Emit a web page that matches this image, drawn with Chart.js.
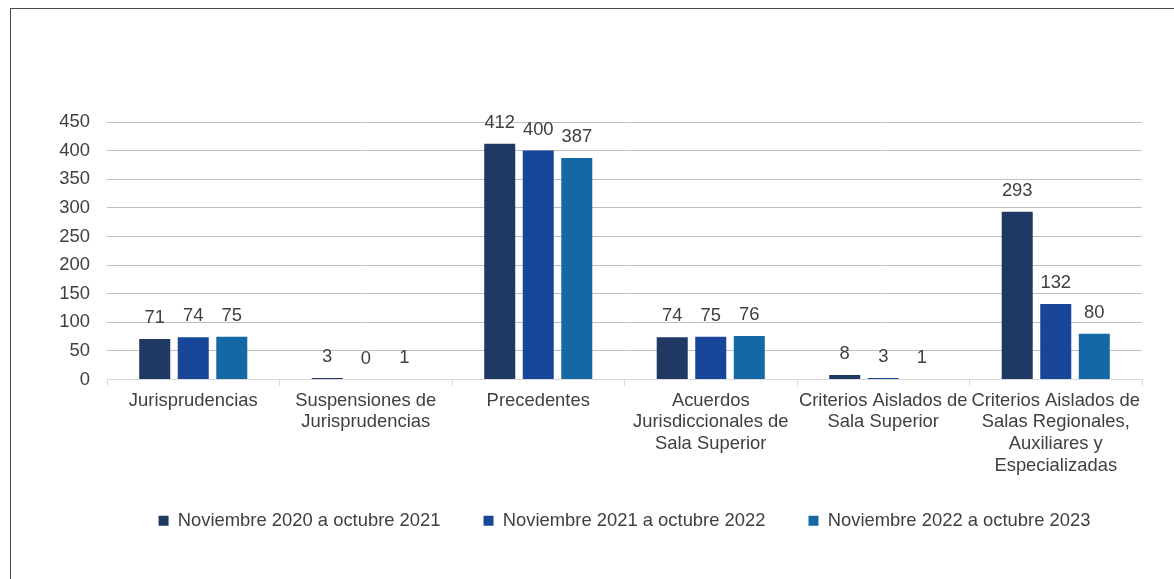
<!DOCTYPE html>
<html>
<head>
<meta charset="utf-8">
<script src="https://cdn.jsdelivr.net/npm/chart.js@4"></script>
<style>
  body { margin: 0; background: #fff; overflow: hidden; }
  #frame { position: absolute; left: 10px; top: 8px; width: 1180px; height: 600px; border: 1px solid #4a4a4a; }
  #chart { position: absolute; left: 0; top: 0; }
</style>
</head>
<body>
<div id="frame"></div>
<canvas id="chart" width="1174" height="579"></canvas>
<script>
// Categories and series values
const categories = [
    'Jurisprudencias',
    ['Suspensiones de', 'Jurisprudencias'],
    'Precedentes',
    ['Acuerdos', 'Jurisdiccionales de', 'Sala Superior'],
    ['Criterios Aislados de', 'Sala Superior'],
    ['Criterios Aislados de', 'Salas Regionales,', 'Auxiliares y', 'Especializadas']
];
const seriesNames = [
    'Noviembre 2020 a octubre 2021',
    'Noviembre 2021 a octubre 2022',
    'Noviembre 2022 a octubre 2023'
];
const period2021 = [71, 3, 412, 74, 8, 293];
const period2022 = [74, 0, 400, 75, 3, 132];
const period2023 = [75, 1, 387, 76, 1, 80];
const yTicks = [0, 50, 100, 150, 200, 250, 300, 350, 400, 450];

const colors = ['#1F3864', '#174699', '#1469A4'];
const textColor = '#404040';
const fontFamily = '"Liberation Sans", Arial, sans-serif';
const fontSize = 18.4;

// Draws the value above each bar
const valueLabels = {
    id: 'valueLabels',
    afterDatasetsDraw(chart) {
        const ctx = chart.ctx;
        ctx.save();
        ctx.font = fontSize + 'px ' + fontFamily;
        ctx.fillStyle = textColor;
        ctx.textAlign = 'center';
        ctx.textBaseline = 'alphabetic';
        chart.data.datasets.forEach((ds, i) => {
            chart.getDatasetMeta(i).data.forEach((bar, j) => {
                ctx.fillText(String(ds.data[j]), bar.x, bar.y - 16);
            });
        });
        ctx.restore();
    }
};

// Pulls the legend up a little, closer to the axis labels
const legendShift = {
    id: 'legendShift',
    afterLayout(chart) {
        chart.legend.top -= 11;
        chart.legend.bottom -= 11;
    }
};

const barChart = new Chart(
    document.getElementById('chart'),
    {
        type: 'bar',
        data: {
            labels: categories,
            datasets: [period2021, period2022, period2023].map((values, i) => ({
                label: seriesNames[i],
                data: values,
                backgroundColor: colors[i],
                borderWidth: 0,
                barPercentage: 0.805,
                categoryPercentage: 0.67
            }))
        },
        options: {
            responsive: false,
            animation: false,
            devicePixelRatio: 1,
            layout: {
                padding: { left: 11, top: 122, right: 32, bottom: 28 }
            },
            scales: {
                x: {
                    afterFit(scale) { scale.height = 100; },
                    grid: {
                        drawOnChartArea: false,
                        drawTicks: true,
                        tickLength: 6,
                        color: '#d9d9d9'
                    },
                    border: { display: true, color: '#d9d9d9' },
                    ticks: {
                        color: textColor,
                        font: { family: fontFamily, size: fontSize, lineHeight: 1.18 },
                        padding: 4,
                        maxRotation: 0,
                        minRotation: 0,
                        autoSkip: false
                    }
                },
                y: {
                    min: yTicks[0],
                    max: yTicks[yTicks.length - 1],
                    afterFit(scale) { scale.width = 96; },
                    afterBuildTicks(scale) { scale.ticks = yTicks.map(v => ({ value: v })); },
                    grid: {
                        drawTicks: false,
                        color: c => c.tick && c.tick.value === 0 ? 'rgba(0,0,0,0)' : '#bfbfbf',
                        lineWidth: 1
                    },
                    border: { display: false },
                    ticks: {
                        color: textColor,
                        font: { family: fontFamily, size: fontSize },
                        padding: 17
                    }
                }
            },
            plugins: {
                legend: {
                    position: 'bottom',
                    fullSize: false,
                    labels: {
                        boxWidth: 10,
                        boxHeight: 10,
                        padding: 43,
                        color: textColor,
                        font: { family: fontFamily, size: fontSize }
                    }
                },
                tooltip: { enabled: false }
            }
        },
        plugins: [valueLabels, legendShift]
    }
);
</script>
</body>
</html>
